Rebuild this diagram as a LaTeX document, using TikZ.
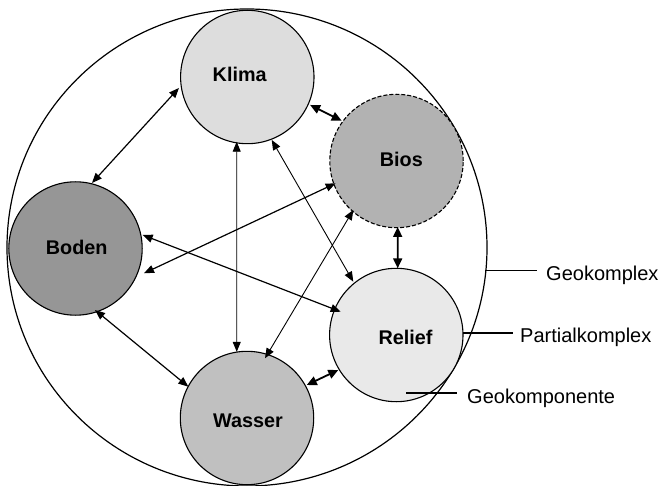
\documentclass[tikz,border=0pt]{standalone}
\usepackage{fontspec}
\setmainfont{Liberation Sans}
\usetikzlibrary{arrows.meta,calc,shapes.geometric}
\definecolor{cKlima}{RGB}{221,221,221}
\definecolor{cBios}{RGB}{178,178,178}
\definecolor{cBoden}{RGB}{150,150,150}
\definecolor{cWasser}{RGB}{192,192,192}
\definecolor{cRelief}{RGB}{233,233,233}
\tikzset{
  comp/.style={circle, draw=black, line width=1.1pt, inner sep=0pt, minimum size=133.4pt},
  lbl/.style={font=\bfseries\fontsize{19.8}{22}\selectfont, anchor=base, inner sep=0pt},
  side/.style={font=\fontsize{20}{22}\selectfont, anchor=base west, inner sep=0pt},
  arr/.style={{Triangle[length=10pt,width=8pt]}-{Triangle[length=10pt,width=8pt]}, line width=1.2pt},
  thinarr/.style={arr, line width=0.9pt},
  shortarr/.style={{Triangle[length=10pt,width=9pt]}-{Triangle[length=10pt,width=9pt]}, line width=1.8pt},
  leader/.style={line width=1.2pt}
}
\begin{document}
\begin{tikzpicture}[x=1pt,y=-1pt]
\useasboundingbox (0,0) rectangle (661,486);
\node[ellipse, draw=black, line width=1.2pt, inner sep=0pt, minimum width=480pt, minimum height=477pt] (geo) at (247,247.5) {};
\node[comp, fill=cKlima] (klima) at (247.3,77) {};
\node[comp, fill=cBios, dash pattern=on 4pt off 2pt] (bios) at (396.5,161) {};
\node[comp, fill=cBoden] (boden) at (75.5,248.5) {};
\node[comp, fill=cWasser] (wasser) at (247,418) {};
\node[comp, fill=cRelief] (relief) at (396.3,335) {};
\node[lbl] (tklima) at (239.7,81.7) {Klima};
\node[lbl] (tbios) at (401.3,166.7) {Bios};
\node[lbl] (tboden) at (76.7,254.3) {Boden};
\node[lbl] (twasser) at (248,427.7) {Wasser};
\node[lbl] (trelief) at (405.5,344) {Relief};
% connectors
\draw[arr] ($(klima)+(189.1:69.2pt)$) -- ($(boden)+(75.9:67.5pt)$);
\draw[shortarr] ($(klima)+(-24:68.7pt)$) -- ($(bios)+(143.7:68pt)$);
\draw[thinarr] ($(klima)+(-99.3:65.6pt)$) -- ($(wasser)+(98.8:67pt)$);
\draw[thinarr] ($(klima)+(-68.8:67.5pt)$) -- ($(relief)+(128.9:68.5pt)$);
\draw[arr] ($(bios)+(200.1:64.8pt)$) -- ($(boden)+(-19.9:72.8pt)$);
\draw[thinarr] ($(bios)+(228.6:65.3pt)$) -- ($(wasser)+(73.2:62.4pt)$);
\draw[shortarr] ($(bios)+(-89:66pt)$) -- ($(relief)+(88.8:66.7pt)$);
\draw[arr] ($(boden)+(11.4:68.5pt)$) -- ($(relief)+(157.3:60.3pt)$);
\draw[arr] ($(boden)+(-72.4:64.5pt)$) -- ($(wasser)+(151.9:66.5pt)$);
\draw[shortarr] ($(relief)+(211.1:67.7pt)$) -- ($(wasser)+(28.9:68.2pt)$);
% side labels
\coordinate (c1) at (485,270.7);
\coordinate (c2) at (463,333);
\coordinate (c3) at (406,393);
\node[side] (lgeo) at (546,280) {Geokomplex};
\node[side] (lpart) at (520,342) {Partialkomplex};
\node[side] (lkomp) at (467,403.3) {Geokomponente};
\draw[leader] (c1) -- (537,270.7);
\draw[leader] (c2) -- (513,333);
\draw[leader] (c3) -- (457,393);
\end{tikzpicture}
\end{document}
